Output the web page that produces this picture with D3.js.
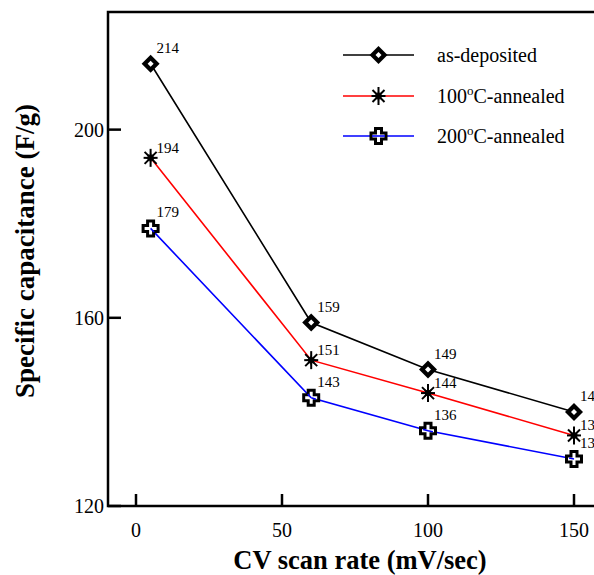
<!DOCTYPE html>
<html><head><meta charset="utf-8">
<script src="https://cdn.jsdelivr.net/npm/d3@7"></script>
<style>body{margin:0;background:#fff}svg{display:block}text{font-family:"Liberation Serif","Times New Roman",serif}</style>
</head><body><svg id="c" width="594" height="575"></svg>
<script>
const scanRates = [5, 60, 100, 150];
const seriesNames = ["as-deposited", "100", "200"];
const asDeposited = [214, 159, 149, 140];
const annealed100 = [194, 151, 144, 135];
const annealed200 = [179, 143, 136, 130];
const xTicks = [0, 50, 100, 150];
const yTicks = [120, 160, 200];

const series = [
  {name: "as-deposited", values: asDeposited, color: "#000", marker: "diamond", ldy: -16, leg: ["as-deposited"]},
  {name: "100", values: annealed100, color: "#ff0000", marker: "star", ldy: -10, leg: ["100", "o", "C-annealed"]},
  {name: "200", values: annealed200, color: "#0000ff", marker: "cross", ldy: -16, leg: ["200", "o", "C-annealed"]}
];

const svg = d3.select("#c");
const L = 108, T = 12, B = 506;
const x = d3.scaleLinear().domain([-10, 160]).range([106.8, 603.2]);
const y = d3.scaleLinear().domain([120, 225]).range([B, T]);

// frame
svg.append("path").attr("d", `M${x(160)},${T}H${L}V${B}H${x(160)}`).attr("fill","none").attr("stroke","#000").attr("stroke-width",2.5);

// ticks inward
const gx = svg.append("g");
xTicks.forEach(t => {
  gx.append("line").attr("x1", x(t)).attr("x2", x(t)).attr("y1", B).attr("y2", B-12).attr("stroke","#000").attr("stroke-width",2.5);
  gx.append("text").attr("x", x(t)).attr("y", B+31).attr("text-anchor","middle").attr("font-size",20).text(t);
});
yTicks.forEach(t => {
  gx.append("line").attr("x1", L).attr("x2", L+13).attr("y1", y(t)).attr("y2", y(t)).attr("stroke","#000").attr("stroke-width",2.5);
  gx.append("text").attr("x", L-4).attr("y", y(t)+7).attr("text-anchor","end").attr("font-size",20).text(t);
});

// axis titles
svg.append("text").attr("x", 360).attr("y", 569).attr("text-anchor","middle").attr("font-size",26.5).attr("font-weight","bold").text("CV scan rate (mV/sec)");
svg.append("text").attr("transform","translate(34,251) rotate(-90)").attr("text-anchor","middle").attr("font-size",27).attr("font-weight","bold").text("Specific capacitance (F/g)");

function drawMarker(g, type, cx, cy) {
  if (type === "diamond") {
    const s = 9;
    g.append("path").attr("d", `M${cx},${cy-s}L${cx+s},${cy}L${cx},${cy+s}L${cx-s},${cy}Z`).attr("fill","#000");
    const s2 = 3;
    g.append("path").attr("d", `M${cx},${cy-s2}L${cx+s2},${cy}L${cx},${cy+s2}L${cx-s2},${cy}Z`).attr("fill","#fff");
  } else if (type === "star") {
    const segs = [[0,9],[7,0],[6,6],[6,-6]];
    segs.forEach(([dx,dy]) => g.append("line").attr("x1",cx-dx).attr("y1",cy-dy).attr("x2",cx+dx).attr("y2",cy+dy).attr("stroke","#000").attr("stroke-width",2));
    const pts = d3.range(16).map(i => { const a = i*Math.PI/8 - Math.PI/2; const r = i%2===0?6:3; return [cx+r*Math.cos(a), cy+r*Math.sin(a)]; });
    g.append("path").attr("d", d3.line()(pts)+"Z").attr("fill","#000");
  } else {
    const a = 7.5, w = 3;
    const d = `M${cx-w},${cy-a}H${cx+w}V${cy-w}H${cx+a}V${cy+w}H${cx+w}V${cy+a}H${cx-w}V${cy+w}H${cx-a}V${cy-w}H${cx-w}Z`;
    g.append("path").attr("d", d).attr("fill","#fff").attr("stroke","#000").attr("stroke-width",3).attr("stroke-linejoin","miter");
  }
}

const line = d3.line().x((d,i) => x(scanRates[i])).y(d => y(d));
const plot = svg.append("g");
series.forEach(s => {
  plot.append("path").attr("d", line(s.values)).attr("fill","none").attr("stroke", s.color).attr("stroke-width",1.6);
});
series.forEach(s => {
  s.values.forEach((v,i) => {
    const cx = x(scanRates[i]), cy = y(v);
    drawMarker(plot, s.marker, cx, cy);
    plot.append("text").attr("x", cx+6).attr("y", cy+s.ldy+5).attr("font-size",15).text(v);
  });
});
// blue line visible through cross markers
series.filter(s => s.marker==="cross").forEach(s => {
  s.values.forEach((v,i) => {
    const cx = x(scanRates[i]), cy = y(v);
    const prev = i>0 ? [x(scanRates[i-1]), y(s.values[i-1])] : null;
    const next = i<s.values.length-1 ? [x(scanRates[i+1]), y(s.values[i+1])] : null;
    [prev,next].forEach(p => { if (!p) return; const dx=p[0]-cx, dy=p[1]-cy, len=Math.hypot(dx,dy);
      plot.append("line").attr("x1",cx).attr("y1",cy).attr("x2",cx+dx/len*5).attr("y2",cy+dy/len*5).attr("stroke",s.color).attr("stroke-width",1.6); });
  });
});

// legend
const lg = svg.append("g");
const rows = [55, 96, 136];
series.forEach((s,k) => {
  const ry = rows[k];
  lg.append("line").attr("x1",343).attr("x2",414).attr("y1",ry).attr("y2",ry).attr("stroke",s.color).attr("stroke-width",1.6);
  drawMarker(lg, s.marker, 378.5, ry);
  if (s.marker === "cross") lg.append("line").attr("x1",372).attr("x2",385).attr("y1",ry).attr("y2",ry).attr("stroke",s.color).attr("stroke-width",1.6);
  const t = lg.append("text").attr("x",437).attr("y",ry+7).attr("font-size",20);
  if (s.leg.length === 1) t.text(s.leg[0]);
  else {
    t.append("tspan").text(s.leg[0]);
    t.append("tspan").attr("dy",-8).attr("font-size",13).text(s.leg[1]);
    t.append("tspan").attr("dy",8).text(s.leg[2]);
  }
});
</script></body></html>
